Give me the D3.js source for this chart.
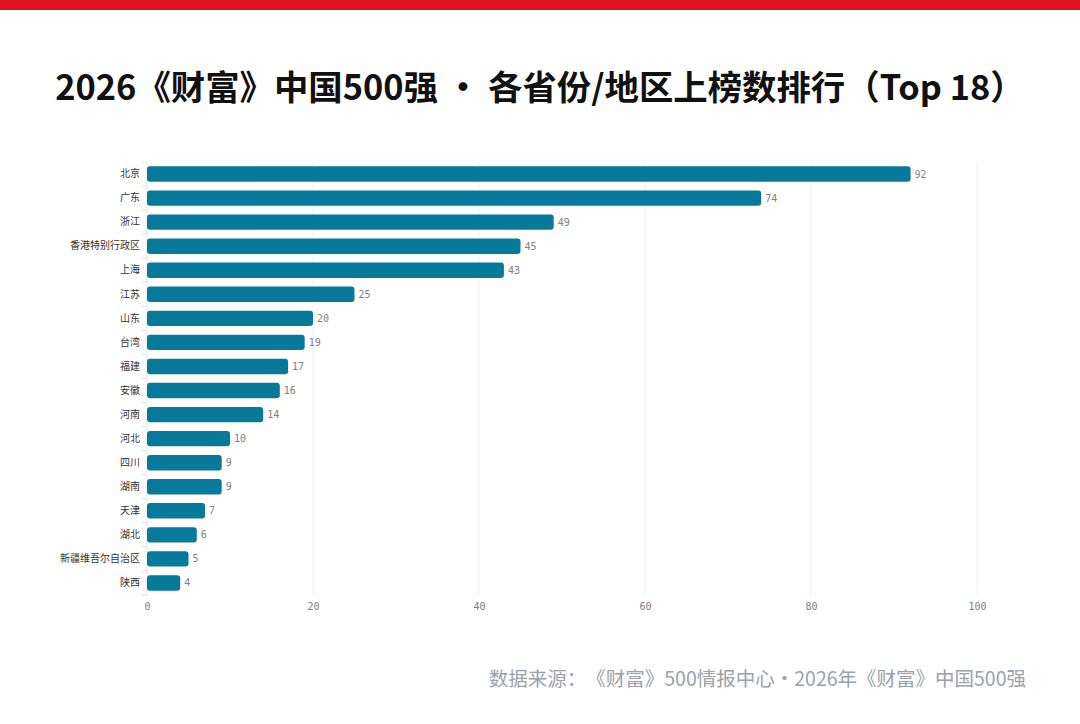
<!DOCTYPE html>
<html>
<head>
<meta charset="utf-8">
<script src="https://cdn.jsdelivr.net/npm/d3@7"></script>
<style>
  body { margin: 0; background: #fff; }
  svg { display: block; }
  svg text { text-spacing-trim: space-all; }
</style>
</head>
<body>
<div class="chart"></div>
<script>
// data
var provinces = ["北京", "广东", "浙江", "香港特别行政区", "上海", "江苏", "山东", "台湾", "福建",
  "安徽", "河南", "河北", "四川", "湖南", "天津", "湖北", "新疆维吾尔自治区", "陕西"];
var counts = [92, 74, 49, 45, 43, 25, 20, 19, 17, 16, 14, 10, 9, 9, 7, 6, 5, 4];
var xTicks = [0, 20, 40, 60, 80, 100];

var titleText = "2026《财富》中国500强 · 各省份/地区上榜数排行（Top 18）";
var sourceText = "数据来源：《财富》500情报中心・2026年《财富》中国500强";

var w = 1080;
var h = 724;
var cjk = "'Noto Sans CJK SC', 'Noto Sans', sans-serif";
var mono = "'DejaVu Sans Mono', 'Liberation Mono', monospace";

var svg = d3.select('.chart').append('svg')
  .attr('width', w)
  .attr('height', h);

// red strip on top
svg.append('rect')
  .attr('x', 0).attr('y', 0)
  .attr('width', w).attr('height', 10)
  .attr('fill', '#e3141d');

svg.append('text')
  .attr('x', w / 2)
  .attr('y', 100)
  .attr('text-anchor', 'middle')
  .style('font-family', cjk)
  .style('font-weight', 700)
  .style('font-size', '34.4px')
  .attr('fill', '#111')
  .text(titleText);

/*---------------------------SCALES--------------------------*/

var x = d3.scaleLinear().domain([0, 100]).range([147, 977]);
var y = d3.scaleBand().domain(provinces).range([162, 595]).paddingInner(0.36).paddingOuter(0.18);

var rows = provinces.map(function(p, i) { return {name: p, value: counts[i]}; });

// grid
svg.append('g').selectAll('line').data(xTicks).enter()
  .append('line')
  .attr('x1', function(d) { return x(d); })
  .attr('x2', function(d) { return x(d); })
  .attr('y1', 162)
  .attr('y2', 595)
  .attr('stroke', function(d) { return d === 0 ? '#e6e6e6' : '#f0f0f0'; })
  .attr('stroke-width', 1);

// y axis labels
var yAxis = d3.axisLeft(y).tickSize(0).tickPadding(7);
var gy = svg.append('g').attr('transform', 'translate(' + 147 + ',0)').call(yAxis);
gy.select('.domain').remove();
gy.selectAll('text')
  .style('font-family', cjk)
  .style('font-size', '10px')
  .attr('fill', '#333');

// little separators between rows
var rowH = (595 - 162) / provinces.length;
svg.append('g').selectAll('line').data(d3.range(provinces.length + 1)).enter()
  .append('line')
  .attr('x1', 142).attr('x2', 147)
  .attr('y1', function(i) { return 162 + i * rowH; })
  .attr('y2', function(i) { return 162 + i * rowH; })
  .attr('stroke', '#e3e3e3');

// x axis labels
var xAxis = d3.axisBottom(x).tickValues(xTicks).tickSize(0).tickPadding(8);
var gx = svg.append('g').attr('transform', 'translate(0,' + 595 + ')').call(xAxis);
gx.select('.domain').remove();
gx.selectAll('text')
  .style('font-family', mono)
  .style('font-size', '10px')
  .attr('fill', '#808080');

/*---------------------------BARS--------------------------*/

svg.append('g').selectAll('rect').data(rows).enter()
  .append('rect')
  .attr('x', x(0))
  .attr('y', function(d) { return y(d.name); })
  .attr('width', function(d) { return x(d.value) - x(0); })
  .attr('height', y.bandwidth())
  .attr('rx', 3)
  .attr('fill', '#077a9c');

svg.append('g').selectAll('text').data(rows).enter()
  .append('text')
  .attr('x', function(d) { return x(d.value) + 4; })
  .attr('y', function(d) { return y(d.name) + y.bandwidth() / 2; })
  .attr('dy', '0.35em')
  .style('font-family', mono)
  .style('font-size', '10px')
  .attr('fill', '#808080')
  .text(function(d) { return d.value; });

svg.append('text')
  .attr('x', 1026)
  .attr('y', 686)
  .attr('text-anchor', 'end')
  .style('font-family', cjk)
  .style('font-size', '19.5px')
  .attr('fill', '#9aa2ab')
  .text(sourceText);
</script>
</body>
</html>
